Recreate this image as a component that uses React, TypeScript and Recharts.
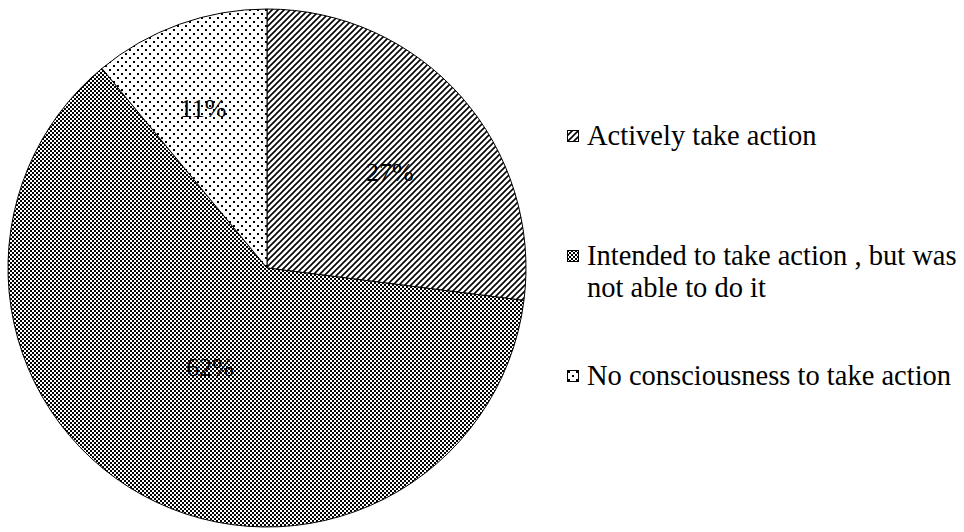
import React from "react";
import { Cell, Legend, Pie, PieChart } from "recharts";

// survey answers, clockwise from 12 o'clock
const categories = [
  "Actively take action",
  "Intended to take action , but was not able to do it",
  "No consciousness to take action",
];
const shares = [27, 62, 11];
const patternIds = ["fill-hatch", "fill-checker", "fill-dots"];

const data = categories.map((name, i) => ({ name, value: shares[i] }));

const FONT = '"Liberation Serif", "Times New Roman", Tinos, "DejaVu Serif", serif';
const RADIAN = Math.PI / 180;
// where each percentage sits: fraction of radius, and a small turn off the mid angle
const labelRadius = [0.602, 0.444, 0.662];
const labelTurn = [-3.4, -0.9, 2.1];

function PatternDefs() {
  return (
    <svg width={0} height={0} style={{ position: "absolute" }}>
      <defs>
        <pattern id="fill-hatch" width={6} height={6} patternUnits="userSpaceOnUse">
          <rect width={6} height={6} fill="#fff" />
          <path d="M-1,1 L1,-1 M0,6 L6,0 M5,7 L7,5" stroke="#000" strokeWidth={1.6} />
        </pattern>
        <pattern id="fill-checker" width={4} height={4} patternUnits="userSpaceOnUse">
          <rect width={4} height={4} fill="#fff" />
          <rect x={0} y={0} width={2} height={2} fill="#000" shapeRendering="crispEdges" />
          <rect x={2} y={2} width={2} height={2} fill="#000" shapeRendering="crispEdges" />
        </pattern>
        <pattern id="fill-dots" width={8} height={8} patternUnits="userSpaceOnUse">
          <rect width={8} height={8} fill="#fff" />
          <rect x={1} y={1} width={2} height={2} fill="#000" shapeRendering="crispEdges" />
          <rect x={5} y={5} width={2} height={2} fill="#000" shapeRendering="crispEdges" />
        </pattern>
      </defs>
    </svg>
  );
}

function SliceLabel(props: any) {
  const { cx, cy, midAngle, outerRadius, index, value } = props;
  const r = outerRadius * labelRadius[index];
  const a = (midAngle + labelTurn[index]) * RADIAN;
  const x = cx + r * Math.cos(-a);
  const y = cy + r * Math.sin(-a);
  return (
    <text
      x={x}
      y={y}
      textAnchor="middle"
      dominantBaseline="central"
      fontFamily={FONT}
      fontSize={26}
      fill="#000"
    >
      {value}%
    </text>
  );
}

function PatternLegend() {
  return (
    <div style={{ position: "relative", width: 395, height: 310 }}>
      {categories.map((name, i) => (
        <div
          key={name}
          style={{
            position: "absolute",
            left: 0,
            top: i * 120,
            display: "flex",
            alignItems: "flex-start",
          }}
        >
          <svg width={12} height={12} style={{ marginTop: 10, marginRight: 8, flex: "none" }}>
            <rect x={0.5} y={0.5} width={11} height={11} fill={`url(#${patternIds[i]})`} stroke="#000" />
          </svg>
          <div
            style={{
              width: 378,
              fontFamily: FONT,
              fontSize: 28.5,
              lineHeight: "32px",
              color: "#000",
            }}
          >
            {name}
          </div>
        </div>
      ))}
    </div>
  );
}

export default function App() {
  return (
    <div style={{ position: "absolute", left: 0, top: 0, width: 964, height: 532, background: "#fff" }}>
      <PatternDefs />
      <PieChart width={964} height={532} margin={{ top: 0, right: 0, bottom: 0, left: 0 }}>
        <Pie
          data={data}
          dataKey="value"
          nameKey="name"
          cx={267}
          cy={268}
          outerRadius={259}
          startAngle={90}
          endAngle={-270}
          stroke="#000"
          strokeWidth={1}
          labelLine={false}
          label={SliceLabel}
          isAnimationActive={false}
        >
          {data.map((entry, index) => (
            <Cell key={`cell-${index}`} fill={`url(#${patternIds[index]})`} />
          ))}
        </Pie>
        <Legend
          layout="vertical"
          align="right"
          verticalAlign="middle"
          content={<PatternLegend />}
          wrapperStyle={{ left: 567, top: 120, width: 395 }}
        />
      </PieChart>
    </div>
  );
}
